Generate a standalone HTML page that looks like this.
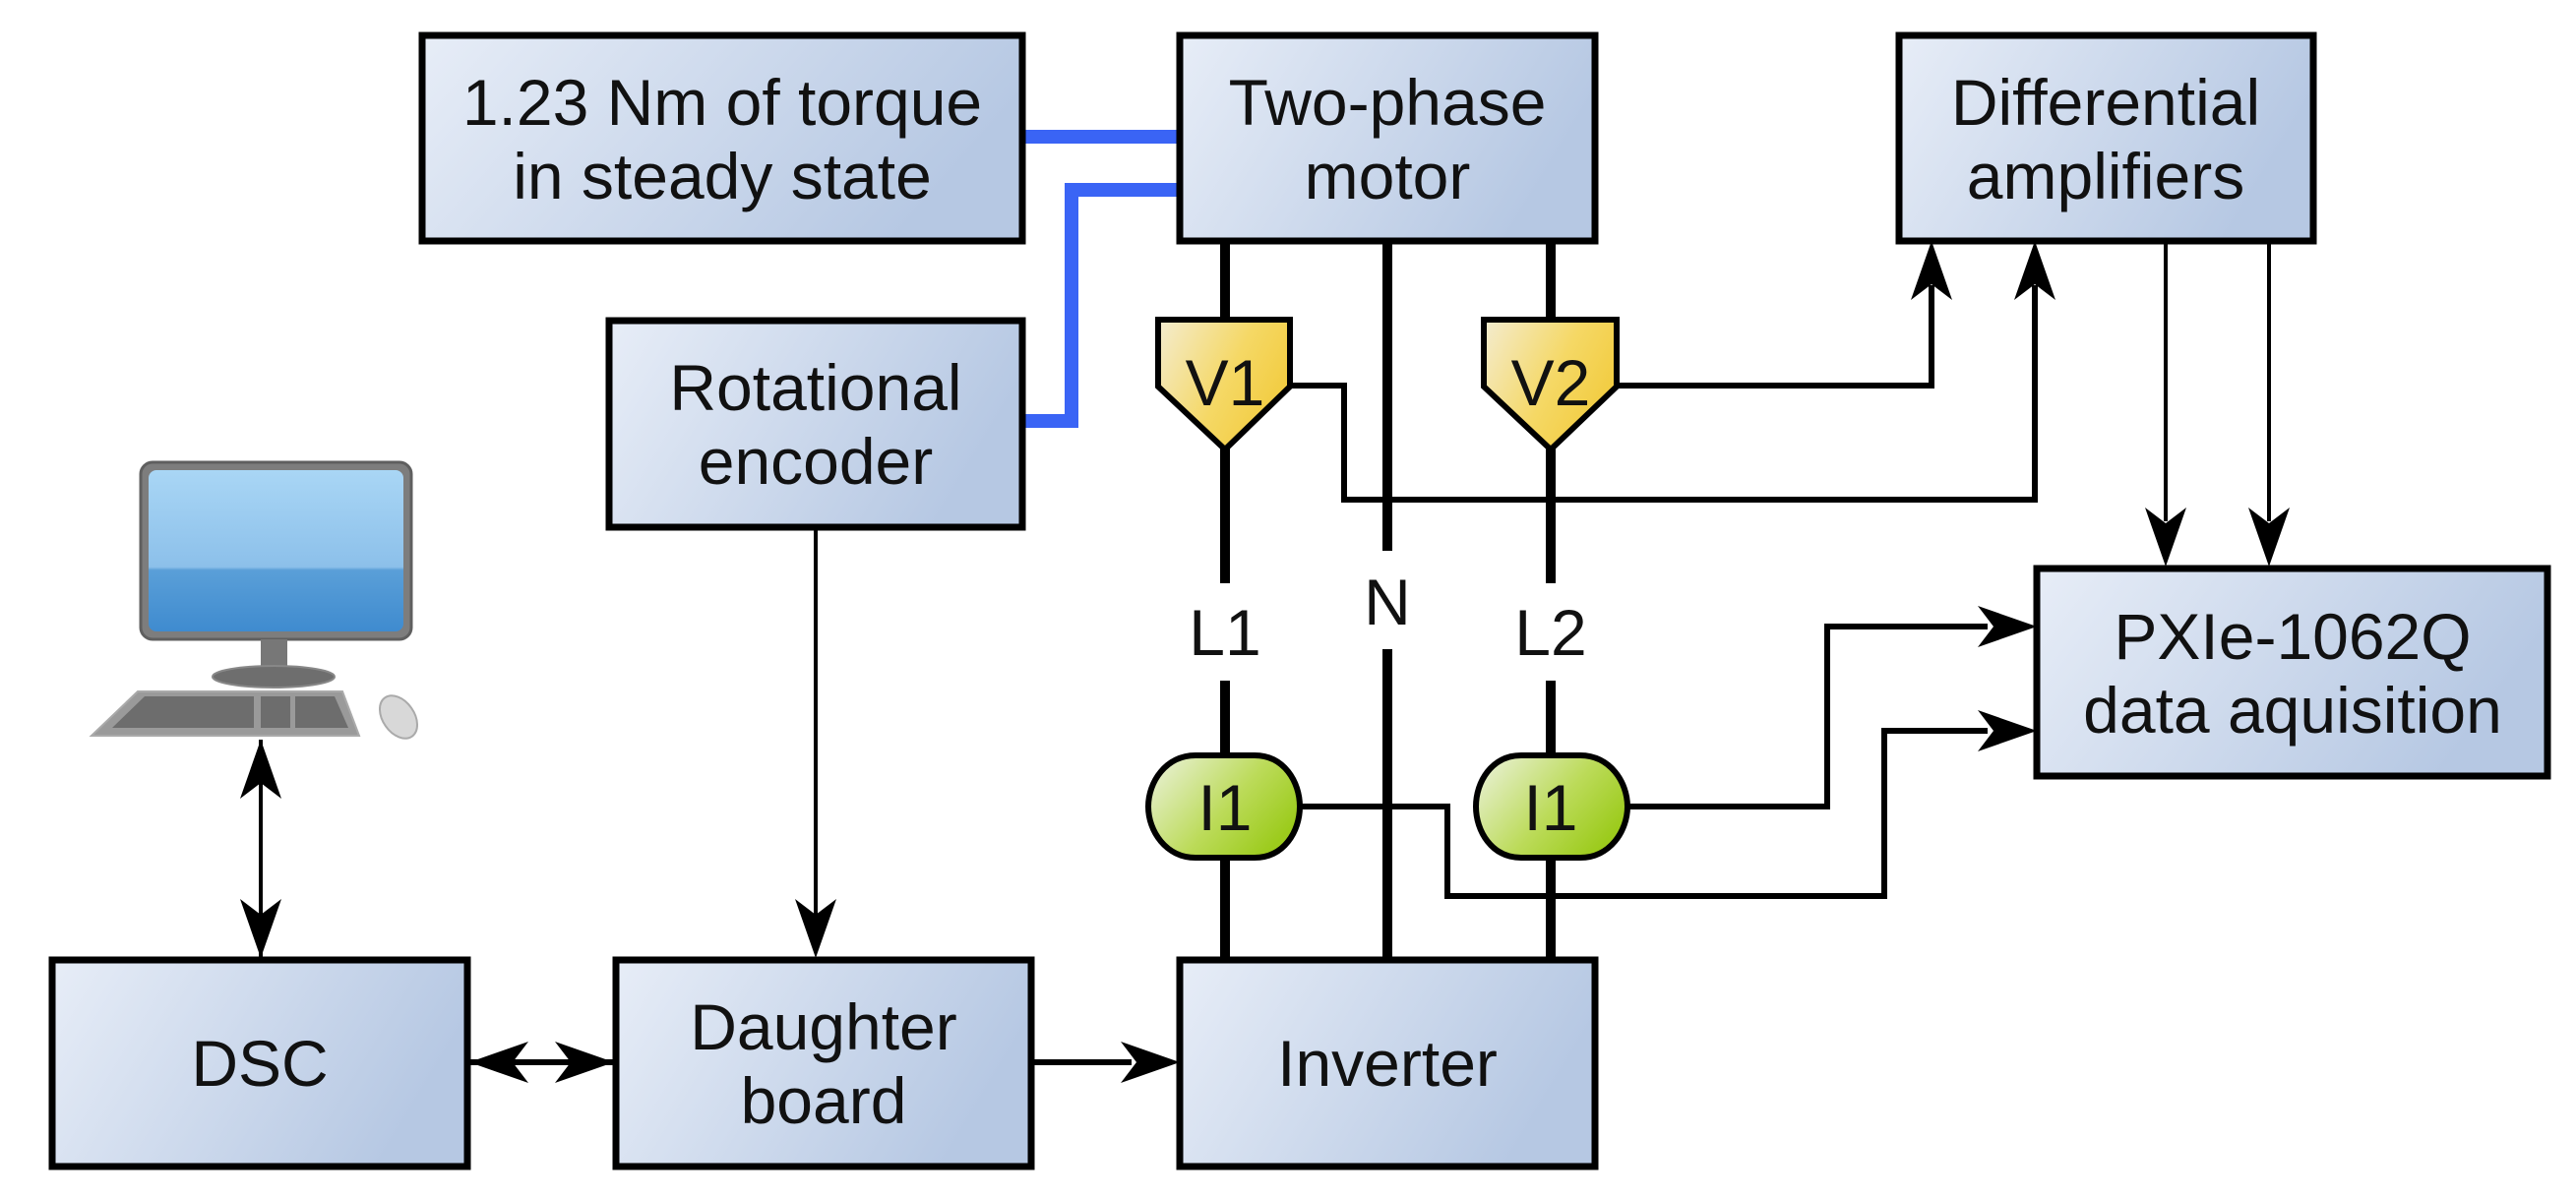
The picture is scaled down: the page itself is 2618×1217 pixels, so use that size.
<!DOCTYPE html>
<html><head><meta charset="utf-8"><style>
html,body{margin:0;padding:0;background:#fff;}
svg{display:block;}
text{font-family:"Liberation Sans",Arial,sans-serif;font-size:66px;fill:#111;text-anchor:middle;}
</style></head><body>
<svg width="2618" height="1217" viewBox="0 0 2618 1217" xmlns="http://www.w3.org/2000/svg">
<defs>
<linearGradient id="bx" x1="0" y1="0" x2="1" y2="0.3">
<stop offset="0" stop-color="#e7edf7"/><stop offset="1" stop-color="#b6c8e3"/></linearGradient>
<linearGradient id="yl" x1="0" y1="0" x2="1" y2="0.5">
<stop offset="0" stop-color="#f3ecd0"/><stop offset="0.6" stop-color="#f5d865"/><stop offset="1" stop-color="#f2cc40"/></linearGradient>
<linearGradient id="gr" x1="0" y1="0" x2="1" y2="0.6">
<stop offset="0" stop-color="#eef3e2"/><stop offset="0.6" stop-color="#bcdb5a"/><stop offset="1" stop-color="#9ccb1c"/></linearGradient>
<linearGradient id="scr" x1="0" y1="0" x2="0" y2="1">
<stop offset="0" stop-color="#a9d6f5"/><stop offset="0.6" stop-color="#8cc0ea"/><stop offset="0.62" stop-color="#5a9fd8"/><stop offset="1" stop-color="#3f8bcf"/></linearGradient>
<path id="ah" d="M0,0 L-60,-21 L-44,0 L-60,21 Z" fill="#000"/>
</defs>

<g stroke="#3a64f5" stroke-width="14" fill="none">
<line x1="1039" y1="139" x2="1199" y2="139"/>
<polyline points="1199,193 1089,193 1089,428 1039,428"/>
</g>

<g stroke="#000" stroke-width="10" fill="none">
<line x1="1245" y1="245" x2="1245" y2="330"/>
<line x1="1245" y1="455" x2="1245" y2="593"/>
<line x1="1245" y1="692" x2="1245" y2="974"/>
<line x1="1410" y1="245" x2="1410" y2="560"/>
<line x1="1410" y1="660" x2="1410" y2="974"/>
<line x1="1576" y1="245" x2="1576" y2="330"/>
<line x1="1576" y1="455" x2="1576" y2="593"/>
<line x1="1576" y1="692" x2="1576" y2="974"/>
</g>

<g stroke="#000" stroke-width="6" fill="none">
<polyline points="1305,392 1366,392 1366,508 2068,508 2068,290"/>
<polyline points="1640,392 1963,392 1963,290"/>
<polyline points="1315,820 1471,820 1471,911 1915,911 1915,743 2020,743"/>
<polyline points="1648,820 1857,820 1857,637 2020,637"/>
<line x1="475" y1="1080" x2="626" y2="1080"/>
<line x1="1048" y1="1080" x2="1150" y2="1080"/>
</g>
<g stroke="#000" stroke-width="4" fill="none">
<line x1="2201" y1="245" x2="2201" y2="530"/>
<line x1="2306" y1="245" x2="2306" y2="530"/>
<line x1="829" y1="536" x2="829" y2="930"/>
<line x1="265" y1="752" x2="265" y2="974"/>
</g>

<use href="#ah" transform="translate(1963,245) rotate(-90)"/>
<use href="#ah" transform="translate(2068,245) rotate(-90)"/>
<use href="#ah" transform="translate(2201,576) rotate(90)"/>
<use href="#ah" transform="translate(2306,576) rotate(90)"/>
<use href="#ah" transform="translate(2070,637)"/>
<use href="#ah" transform="translate(2070,743)"/>
<use href="#ah" transform="translate(829,974) rotate(90)"/>
<use href="#ah" transform="translate(265,974) rotate(90)"/>
<use href="#ah" transform="translate(265,752) rotate(-90)"/>
<use href="#ah" transform="translate(477,1080) rotate(180)"/>
<use href="#ah" transform="translate(624,1080)"/>
<use href="#ah" transform="translate(1199,1080)"/>

<g fill="url(#bx)" stroke="#000" stroke-width="7">
<rect x="429" y="36" width="610" height="209"/>
<rect x="1199" y="36" width="422" height="209"/>
<rect x="1930" y="36" width="421" height="209"/>
<rect x="619" y="326" width="420" height="210"/>
<rect x="2070" y="578" width="519" height="211"/>
<rect x="53" y="976" width="422" height="210"/>
<rect x="626" y="976" width="422" height="210"/>
<rect x="1199" y="976" width="422" height="210"/>
</g>

<g stroke="#000" stroke-width="6" fill="url(#yl)">
<path d="M1177,325 L1311,325 L1311,393 L1245,457 L1177,393 Z"/>
<path d="M1508,325 L1643,325 L1643,393 L1576,457 L1508,393 Z"/>
</g>
<g stroke="#000" stroke-width="6" fill="url(#gr)">
<path d="M1215,768 L1275,768 C1305,768 1321,795 1321,820 C1321,845 1305,872 1275,872 L1215,872 C1185,872 1167,845 1167,820 C1167,795 1185,768 1215,768 Z"/>
<path d="M1546,768 L1606,768 C1636,768 1654,795 1654,820 C1654,845 1636,872 1606,872 L1546,872 C1516,872 1500,845 1500,820 C1500,795 1516,768 1546,768 Z"/>
</g>

<text x="734" y="127">1.23 Nm of torque</text>
<text x="734" y="202">in steady state</text>
<text x="1410" y="127">Two-phase</text>
<text x="1410" y="202">motor</text>
<text x="2140" y="127">Differential</text>
<text x="2140" y="202">amplifiers</text>
<text x="829" y="417">Rotational</text>
<text x="829" y="492">encoder</text>
<text x="2330" y="670">PXIe-1062Q</text>
<text x="2330" y="745">data aquisition</text>
<text x="264" y="1104">DSC</text>
<text x="837" y="1067">Daughter</text>
<text x="837" y="1142">board</text>
<text x="1410" y="1104">Inverter</text>
<text x="1245" y="412">V1</text>
<text x="1576" y="412">V2</text>
<text x="1245" y="844">I1</text>
<text x="1576" y="844">I1</text>
<text x="1245" y="666">L1</text>
<text x="1410" y="635">N</text>
<text x="1576" y="666">L2</text>

<rect x="143" y="470" width="275" height="180" rx="12" fill="#7d7d7d" stroke="#5f5f5f" stroke-width="3"/>
<rect x="151" y="478" width="259" height="164" rx="8" fill="url(#scr)"/>
<rect x="265" y="650" width="27" height="32" fill="#777"/>
<ellipse cx="278" cy="688" rx="62" ry="11" fill="#6e6e6e" stroke="#888" stroke-width="2"/>
<path d="M140,703 L348,703 L365,748 L93,748 Z" fill="#9a9a9a" stroke="#aaa" stroke-width="2"/>
<path d="M147,708 L258,708 L258,740 L114,740 Z" fill="#6d6d6d"/>
<rect x="265" y="708" width="30" height="32" fill="#6d6d6d"/>
<path d="M300,708 L340,708 L354,740 L300,740 Z" fill="#6d6d6d"/>
<ellipse cx="405" cy="729" rx="16" ry="24" transform="rotate(-35 405 729)" fill="#d8d8d8" stroke="#aaa" stroke-width="2"/>
</svg>
</body></html>
